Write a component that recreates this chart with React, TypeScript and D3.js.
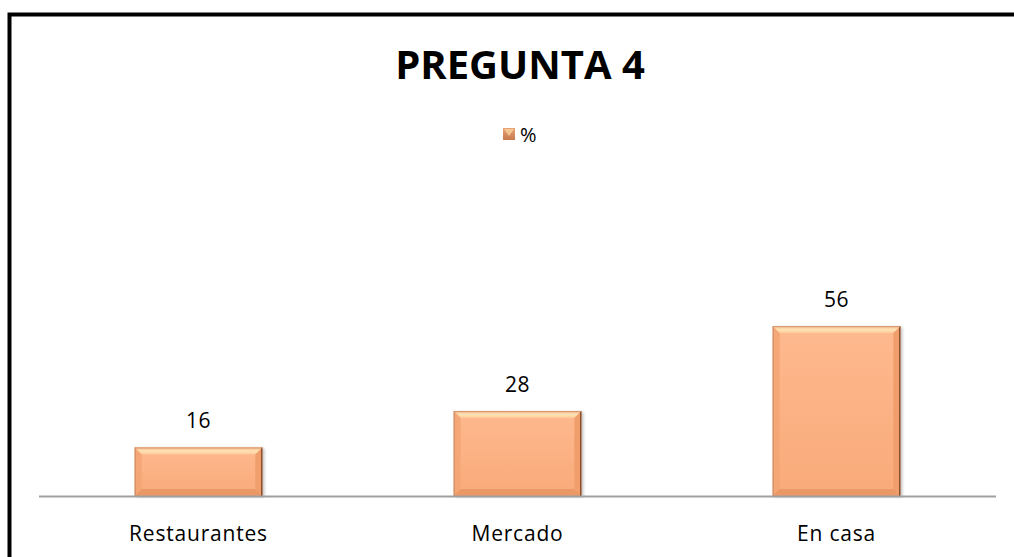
import React from "react";
import * as d3 from "d3";

const categories = ["Restaurantes", "Mercado", "En casa"];
const values = [16, 28, 56];
const seriesName = "%";
const title = "PREGUNTA 4";

const W = 1014;
const H = 557;
const FONT = "'Open Sans', 'Noto Sans', sans-serif";

export default function App() {
  const x = d3.scaleBand<string>().domain(categories).range([39, 996]).paddingInner(0.6).paddingOuter(0.3);
  const y = d3.scaleLinear().domain([0, 60]).range([496, 314]);
  const bw = x.bandwidth();
  const bev = 7;

  return (
    <svg width={W} height={H} style={{ position: "fixed", left: 0, top: 0, background: "#fff" }} fontFamily={FONT}>
      <defs>
        <linearGradient id="face" x1="0" y1="0" x2="0" y2="1">
          <stop offset="0" stopColor="#FEB98E" />
          <stop offset="1" stopColor="#F9AA7A" />
        </linearGradient>
        <linearGradient id="topBev" x1="0" y1="0" x2="0" y2="1">
          <stop offset="0" stopColor="#F5B88E" />
          <stop offset="0.5" stopColor="#FFE3B3" />
          <stop offset="1" stopColor="#FEC99A" />
        </linearGradient>
        <linearGradient id="leg" x1="0" y1="0" x2="0" y2="1">
          <stop offset="0" stopColor="#E9A377" />
          <stop offset="1" stopColor="#C77A4E" />
        </linearGradient>
        <filter id="sh" x="-10%" y="-10%" width="130%" height="130%">
          <feGaussianBlur in="SourceAlpha" stdDeviation="1.5" />
          <feOffset dx="2" dy="1" result="o" />
          <feComponentTransfer><feFuncA type="linear" slope="0.25" /></feComponentTransfer>
          <feMerge><feMergeNode /><feMergeNode in="SourceGraphic" /></feMerge>
        </filter>
      </defs>

      <rect x={9.5} y={14.5} width={1100} height={700} fill="none" stroke="#000" strokeWidth={4} />

      <text x={520} y={79} textAnchor="middle" fontSize={40} fontWeight="bold" fill="#000">{title}</text>

      <g>
        <rect x={503} y={128} width={12} height={12} fill="url(#leg)" />
        <polygon points="504,129 514,129 509,136" fill="#F9D39B" opacity={0.8} />
        <text x={520} y={142} fontSize={20} fill="#000">{seriesName}</text>
      </g>

      {categories.map((c, i) => {
        const x0 = x(c)!;
        const y0 = y(values[i]);
        const y1 = y(0);
        const h = y1 - y0;
        const b = Math.min(bev, h / 2);
        return (
          <g key={c}>
            <g filter="url(#sh)">
              <rect x={x0} y={y0} width={bw} height={h} fill="url(#face)" />
            </g>
            <polygon points={`${x0},${y0} ${x0 + bw},${y0} ${x0 + bw - b},${y0 + b} ${x0 + b},${y0 + b}`} fill="url(#topBev)" />
            <polygon points={`${x0},${y0} ${x0 + b},${y0 + b} ${x0 + b},${y1 - b} ${x0},${y1}`} fill="#F4A576" opacity={0.9} />
            <polygon points={`${x0 + bw},${y0} ${x0 + bw - b},${y0 + b} ${x0 + bw - b},${y1 - b} ${x0 + bw},${y1}`} fill="#F09E6C" />
            <polygon points={`${x0},${y1} ${x0 + b},${y1 - b} ${x0 + bw - b},${y1 - b} ${x0 + bw},${y1}`} fill="#EA9866" />
            <line x1={x0 + 0.5} x2={x0 + 0.5} y1={y0} y2={y1} stroke="#C98A66" strokeWidth={1} />
            <line x1={x0 + bw - 0.5} x2={x0 + bw - 0.5} y1={y0} y2={y1} stroke="#6B3B22" strokeWidth={1.2} />
            <line x1={x0} x2={x0 + bw} y1={y0 + 0.5} y2={y0 + 0.5} stroke="#D9946A" strokeWidth={1} />
            <text x={x0 + bw / 2} y={y0 - 19} textAnchor="middle" fontSize={21} letterSpacing={0.5} fill="#000">{values[i]}</text>
            <text x={x0 + bw / 2} y={541} textAnchor="middle" fontSize={21} letterSpacing={0.8} fill="#000">{c}</text>
          </g>
        );
      })}

      <line x1={39} x2={996} y1={496.5} y2={496.5} stroke="#A0A0A0" strokeWidth={2} />
    </svg>
  );
}
